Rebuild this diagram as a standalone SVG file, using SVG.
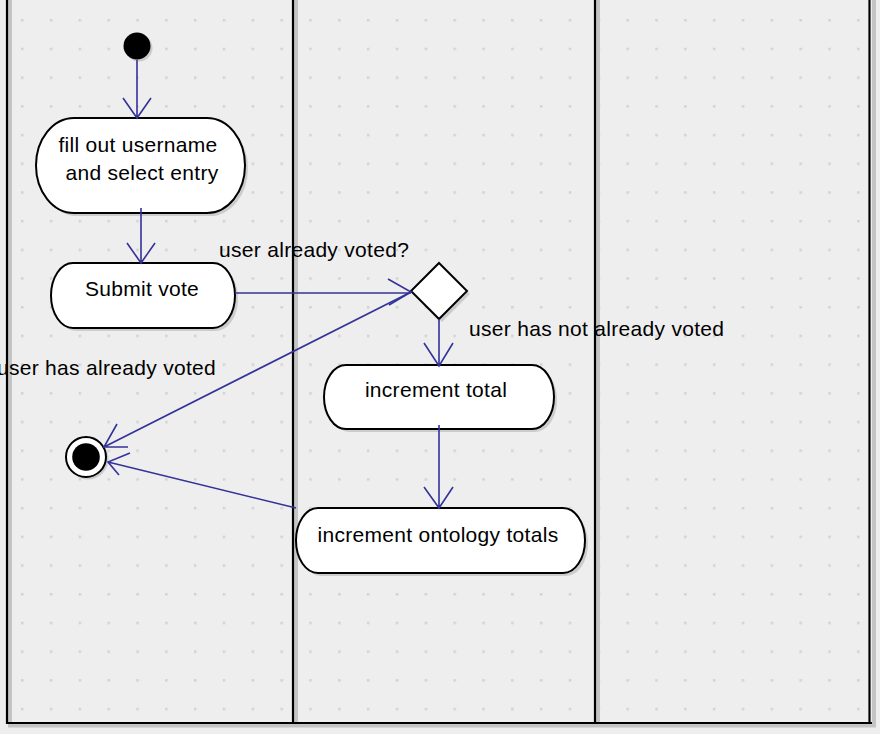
<svg xmlns="http://www.w3.org/2000/svg" width="880" height="734" viewBox="0 0 880 734">
<style>
.node{fill:#ffffff;stroke:#000000;stroke-width:2}
.shadow{fill:#bdbdbd;opacity:0.7}
.lbl{font-family:"Liberation Sans",Arial,sans-serif;font-size:21px;letter-spacing:0.3px;fill:#000000}
.conn{fill:none;stroke:#333399;stroke-width:1.6}
.lane{stroke:#000000;stroke-width:2.2}
.lshadow{stroke:#c4c4c4;stroke-width:4}
</style>
<defs>
<pattern id="dots" patternUnits="userSpaceOnUse" x="21" y="19" width="28.83" height="28.7">
<rect x="0" y="0" width="2.5" height="2.5" fill="#d2d2d2"/>
</pattern>
</defs>
<rect x="0" y="0" width="880" height="734" fill="#eeeeee"/>
<rect x="8" y="0" width="862" height="722" fill="url(#dots)"/>
<g id="swimlanes">
<line class="lshadow" x1="10" y1="0" x2="10" y2="722"/>
<line class="lshadow" x1="296" y1="0" x2="296" y2="722"/>
<line class="lshadow" x1="598" y1="0" x2="598" y2="722"/>
<line class="lshadow" x1="874" y1="0" x2="874" y2="727"/>
<line class="lshadow" x1="8" y1="725.5" x2="876" y2="725.5"/>
<line class="lane" x1="7" y1="0" x2="7" y2="724"/>
<line class="lane" x1="293" y1="0" x2="293" y2="723"/>
<line class="lane" x1="595" y1="0" x2="595" y2="723"/>
<line class="lane" x1="869.5" y1="0" x2="869.5" y2="724" stroke-width="5"/>
<line class="lane" x1="6" y1="723" x2="872" y2="723"/>
</g>
<g id="initial">
<circle cx="139" cy="48" r="13.5" class="shadow"/>
<circle cx="137" cy="46" r="13.5" fill="#000000"/>
</g>
<g id="fill-out">
<rect x="39" y="121" width="209" height="95" rx="38" ry="47.5" class="shadow"/>
<rect x="36" y="118" width="209" height="95" rx="38" ry="47.5" class="node"/>
<text class="lbl" x="138" y="152" text-anchor="middle">fill out username</text>
<text class="lbl" x="142" y="180" text-anchor="middle">and select entry</text>
</g>
<g id="submit">
<rect x="54" y="266" width="184" height="65" rx="22" ry="32.5" class="shadow"/>
<rect x="51" y="263" width="184" height="65" rx="22" ry="32.5" class="node"/>
<text class="lbl" x="142" y="296" text-anchor="middle">Submit vote</text>
</g>
<g id="decision">
<polygon points="439,266 470,294 442,322 414,294" class="shadow"/>
<polygon points="439,263 467,291 439,319 411,291" class="node"/>
</g>
<g id="increment-total">
<rect x="327" y="368" width="230" height="64" rx="22" ry="32" class="shadow"/>
<rect x="324" y="365" width="230" height="64" rx="22" ry="32" class="node"/>
<text class="lbl" x="436" y="397" text-anchor="middle">increment total</text>
</g>
<g id="increment-ontology">
<rect x="299" y="511" width="289" height="65" rx="22" ry="32.5" class="shadow"/>
<rect x="296" y="508" width="289" height="65" rx="22" ry="32.5" class="node"/>
<text class="lbl" x="438" y="542" text-anchor="middle">increment ontology totals</text>
</g>
<g id="final">
<circle cx="88" cy="459" r="20.5" class="shadow"/>
<circle cx="86" cy="457" r="20" fill="#ffffff" stroke="#000000" stroke-width="2"/>
<circle cx="86" cy="457" r="13.8" fill="#000000"/>
</g>
<g id="connectors">
<path class="conn" d="M137,60 L137,118 M123,98 L137,118 L151,98"/>
<path class="conn" d="M141,208 L141,263 M127,243 L141,263 L155,243"/>
<path class="conn" d="M235,293 L411,293 M388,279 L411,292 L389,305"/>
<path class="conn" d="M411,292 L104,447 M117,424 L104,447 L128,447"/>
<path class="conn" d="M439,319 L439,365 M424,343 L439,366 L453,343"/>
<path class="conn" d="M439,425 L439,508 M424,487 L439,508 L453,487"/>
<path class="conn" d="M296,508 L108,462 M130,453 L108,462 L119,475"/>
<text class="lbl" x="219" y="257">user already voted?</text>
<text class="lbl" x="216" y="375" text-anchor="end">user has already voted</text>
<text class="lbl" x="469" y="336">user has not already voted</text>
</g>
</svg>
